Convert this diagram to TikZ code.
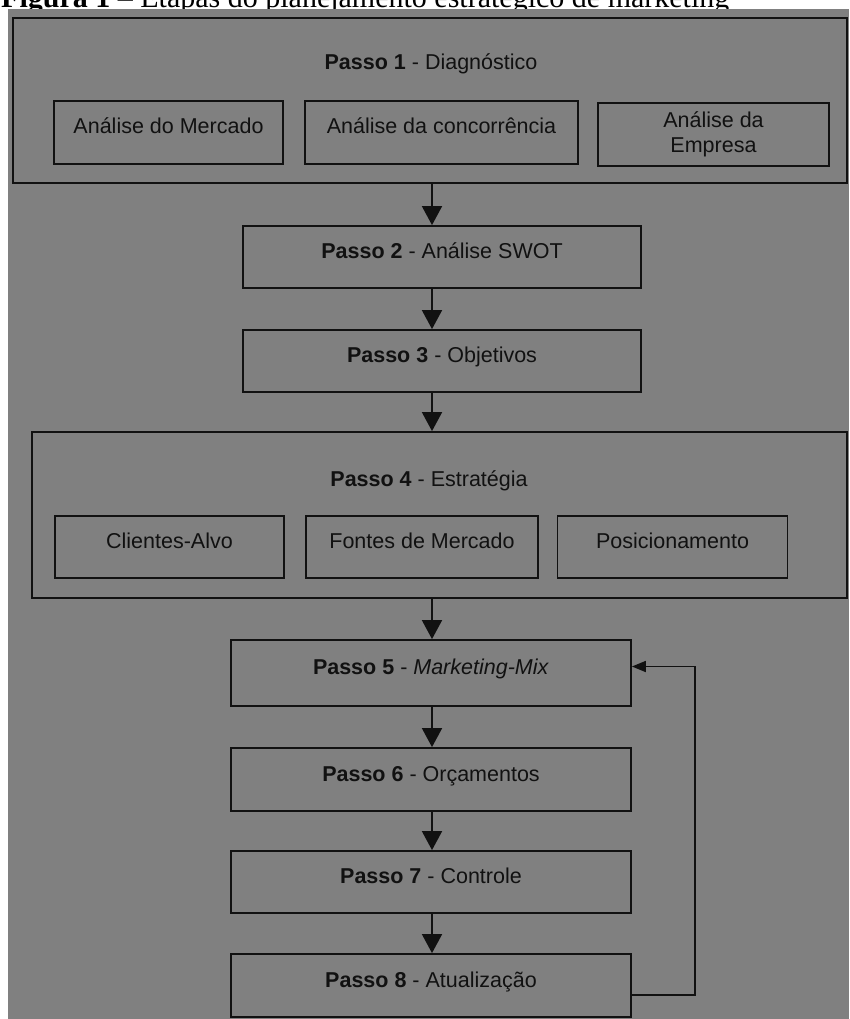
\documentclass[tikz,border=0pt]{standalone}
\usepackage{fontspec}
\setmainfont{Liberation Sans}
\newfontfamily\titlefont{Liberation Serif}
\usetikzlibrary{arrows.meta}
\definecolor{bg}{HTML}{808080}
\definecolor{ink}{HTML}{111111}
\begin{document}
\begin{tikzpicture}[x=1pt,y=-1pt,
  frame/.style={draw=ink, line width=1.8pt, inner sep=0pt, text=ink,
    font=\fontsize{21.5}{24}\selectfont},
  onel/.style={text height=15pt, text depth=12pt},
  lbl/.style={inner sep=0pt, text=ink, font=\fontsize{21.5}{24}\selectfont,
    text height=15pt, text depth=12pt},
  flow/.style={draw=ink, line width=1.8pt, -{Triangle[length=19pt,width=20pt]}},
  back/.style={draw=ink, line width=1.8pt, -{Triangle[length=14pt,width=11pt]}}
]
\useasboundingbox (0,0) rectangle (849,1019);
\clip (0,0) rectangle (849,1019);

% title (partly hidden)
\node[anchor=base west, inner sep=0pt, text=black,
  font=\titlefont\fontsize{30}{30}\selectfont] (title) at (1,7.5)
  {\textbf{Figura 1} – Etapas do planejamento estratégico de marketing};

% gray background
\fill[bg] (8,9) rectangle (849,1019);

% Passo 1
\node[frame, minimum width=834pt, minimum height=165pt] (b1) at (430,100.5) {};
\node[lbl] (t1) at (431,68.5) {\textbf{Passo 1} - Diagnóstico};
\node[frame, onel, minimum width=229pt, minimum height=63pt] (a1) at (168.5,132.5) {Análise do Mercado};
\node[frame, onel, minimum width=273pt, minimum height=63pt] (a2) at (441.5,132.5) {Análise da concorrência};
\node[frame, align=center, minimum width=231pt, minimum height=63pt] (a3) at (713.5,134.5) {};
\node[inner sep=0pt, text=ink, align=center, font=\fontsize{21.5}{25}\selectfont] (a3t) at (713.5,134) {Análise da\\Empresa};

% Passo 2, 3
\node[frame, onel, minimum width=398pt, minimum height=62pt] (p2) at (442,257) {\textbf{Passo 2} - Análise SWOT};
\node[frame, onel, minimum width=398pt, minimum height=62pt] (p3) at (442,361) {\textbf{Passo 3} - Objetivos};

% Passo 4
\node[frame, minimum width=815pt, minimum height=166pt] (b4) at (439.5,515) {};
\node[lbl] (t4) at (429,484.5) {\textbf{Passo 4} - Estratégia};
\node[frame, onel, minimum width=229pt, minimum height=62pt] (s1) at (169.5,547) {Clientes-Alvo};
\node[frame, onel, minimum width=232pt, minimum height=62pt] (s2) at (422,547) {Fontes de Mercado};
\node[frame, onel, minimum width=230pt, minimum height=62pt] (s3) at (672.5,547) {Posicionamento};

% Passo 5 - 8
\node[frame, onel, minimum width=400pt, minimum height=66pt] (p5) at (431,673) {\textbf{Passo 5} - \textit{Marketing-Mix}};
\node[frame, onel, minimum width=400pt, minimum height=63pt] (p6) at (431,779.5) {\textbf{Passo 6} - Orçamentos};
\node[frame, onel, minimum width=400pt, minimum height=62pt] (p7) at (431,882) {\textbf{Passo 7} - Controle};
\node[frame, onel, minimum width=400pt, minimum height=63pt] (p8) at (431,985.5) {\textbf{Passo 8} - Atualização};

% connectors
\coordinate (ax) at (432,0);
\draw[flow] (b1.south -| ax) -- (p2.north -| ax);
\draw[flow] (p2.south -| ax) -- (p3.north -| ax);
\draw[flow] (p3.south -| ax) -- (b4.north -| ax);
\draw[flow] (b4.south -| ax) -- (p5.north -| ax);
\draw[flow] (p5.south -| ax) -- (p6.north -| ax);
\draw[flow] (p6.south -| ax) -- (p7.north -| ax);
\draw[flow] (p7.south -| ax) -- (p8.north -| ax);

\coordinate (c8) at (695,995);
\coordinate (c5) at (695,666.5);
\draw[back] (p8.east |- c8) -- (c8) -- (c5) -- (p5.east |- c5);
\end{tikzpicture}
\end{document}
